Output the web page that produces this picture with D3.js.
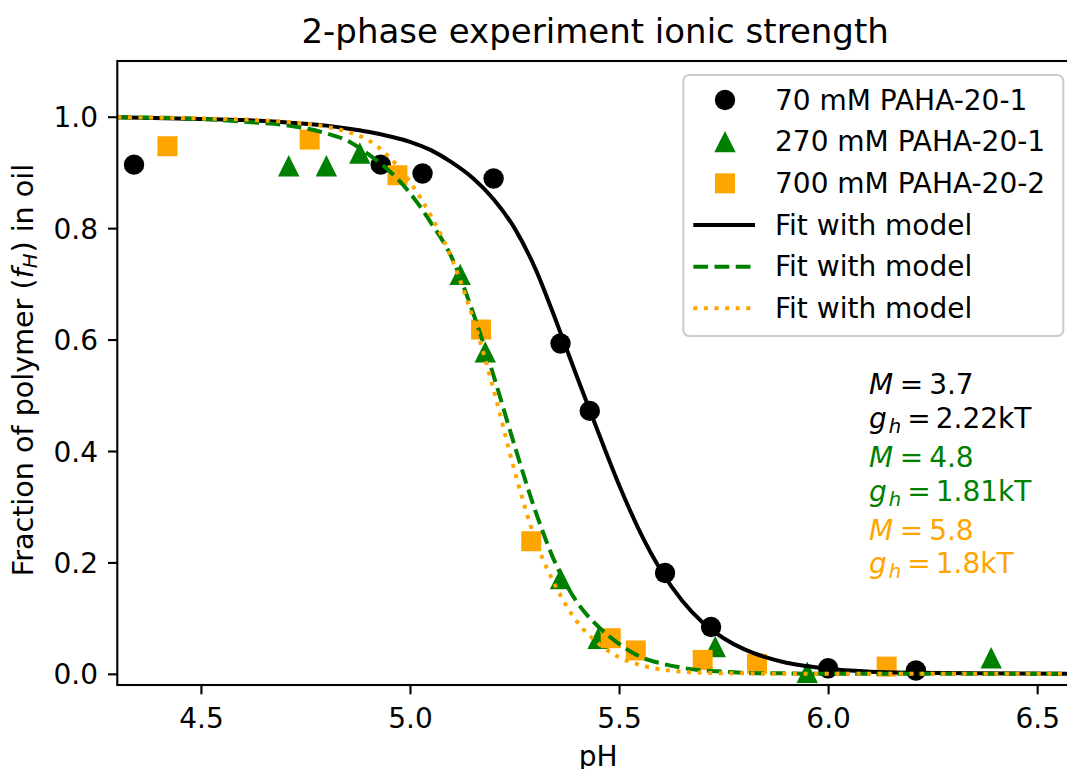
<!DOCTYPE html>
<html><head><meta charset="utf-8">
<script src="https://cdn.jsdelivr.net/npm/d3@7"></script>
<style>
body{margin:0;background:#fff}
svg{display:block}
text{font-family:"DejaVu Sans",sans-serif}
</style>
</head><body>
<svg id="chart" width="1067" height="769"></svg>
<script>
// ---------- data ----------
const titleText = "2-phase experiment ionic strength";
const xLabel = "pH";
const xTicks = [4.5, 5.0, 5.5, 6.0, 6.5];
const yTicks = [0.0, 0.2, 0.4, 0.6, 0.8, 1.0];
const seriesNames = ["70 mM PAHA-20-1", "270 mM PAHA-20-1", "700 mM PAHA-20-2"];
const fitName = "Fit with model";
const seriesColors = ["black", "green", "orange"];

const ph70 = [4.34, 4.93, 5.03, 5.20, 5.36, 5.43, 5.61, 5.72, 6.00, 6.21];
const f70  = [0.914, 0.914, 0.898, 0.889, 0.593, 0.472, 0.181, 0.084, 0.010, 0.006];
const ph270 = [4.71, 4.80, 4.88, 5.12, 5.18, 5.36, 5.45, 5.73, 5.95, 6.39];
const f270  = [0.912, 0.912, 0.935, 0.717, 0.578, 0.171, 0.064, 0.049, 0.003, 0.029];
const ph700 = [4.42, 4.76, 4.97, 5.17, 5.29, 5.48, 5.54, 5.70, 5.83, 6.14];
const f700  = [0.947, 0.959, 0.895, 0.618, 0.238, 0.064, 0.042, 0.025, 0.018, 0.013];

const fitPH = [4.3, 4.5, 4.6, 4.7, 4.8, 4.85, 4.9, 4.95, 5.0, 5.05, 5.1, 5.15, 5.2, 5.25, 5.3, 5.35,
               5.4, 5.45, 5.5, 5.55, 5.6, 5.65, 5.7, 5.75, 5.8, 5.85, 5.9, 5.95, 6.0, 6.1, 6.2, 6.35, 6.6];
const fit70  = [0.999, 0.996, 0.994, 0.990, 0.984, 0.979, 0.973, 0.965, 0.955, 0.940, 0.918, 0.890, 0.852, 0.800, 0.727, 0.632,
                0.532, 0.434, 0.339, 0.255, 0.186, 0.132, 0.092, 0.064, 0.044, 0.030, 0.020, 0.014, 0.009, 0.004, 0.002, 0.001, 0.000];
const fit270 = [0.999, 0.996, 0.991, 0.985, 0.970, 0.957, 0.933, 0.903, 0.863, 0.810, 0.747, 0.650, 0.535, 0.410, 0.292, 0.195,
                0.128, 0.085, 0.054, 0.031, 0.019, 0.011, 0.006, 0.004, 0.002, 0.001, 0.001, 0.000, 0.000, 0.000, 0.000, 0.000, 0.000];
const fit700 = [0.999, 0.997, 0.995, 0.991, 0.982, 0.973, 0.958, 0.928, 0.883, 0.822, 0.745, 0.640, 0.510, 0.365, 0.240, 0.155,
                0.093, 0.055, 0.030, 0.016, 0.008, 0.004, 0.002, 0.001, 0.001, 0.000, 0.000, 0.000, 0.000, 0.000, 0.000, 0.000, 0.000];

const paramM = ["3.7", "4.8", "5.8"];
const paramG = ["2.22", "1.81", "1.8"];

// ---------- layout ----------
const svg = d3.select("#chart");
const L = 117.3, R = 1079, T = 61, B = 685;
const x = d3.scaleLinear().domain([4.3, 6.6]).range([L, R]);
const y = d3.scaleLinear().domain([-0.02, 1.1]).range([B, T]);
const fs = 28;

svg.append("defs").append("clipPath").attr("id", "clip")
  .append("rect").attr("x", L).attr("y", T).attr("width", R - L).attr("height", B - T);

const plot = svg.append("g").attr("clip-path", "url(#clip)");

// markers
const markers = [
  {ph: ph70, f: f70, shape: "circle", color: seriesColors[0]},
  {ph: ph270, f: f270, shape: "triangle", color: seriesColors[1]},
  {ph: ph700, f: f700, shape: "square", color: seriesColors[2]}
];
function drawMarker(g, shape, cx, cy, color) {
  if (shape === "circle") {
    g.append("circle").attr("cx", cx).attr("cy", cy).attr("r", 10.2).attr("fill", color);
  } else if (shape === "triangle") {
    const h = 10.7;
    g.append("path").attr("d", `M${cx},${cy - h}L${cx - h},${cy + h}L${cx + h},${cy + h}Z`).attr("fill", color);
  } else {
    const h = 10;
    g.append("rect").attr("x", cx - h).attr("y", cy - h).attr("width", 2 * h).attr("height", 2 * h).attr("fill", color);
  }
}
markers.forEach(s => {
  s.ph.forEach((p, i) => drawMarker(plot, s.shape, x(p), y(s.f[i]), s.color));
});

// fit lines
const fits = [
  {vals: fit70, color: seriesColors[0], dash: null},
  {vals: fit270, color: seriesColors[1], dash: "14.8,6.4"},
  {vals: fit700, color: seriesColors[2], dash: "4,6.6"}
];
const line = d3.line().x(d => x(d[0])).y(d => y(d[1])).curve(d3.curveMonotoneX);
fits.forEach(ft => {
  const p = plot.append("path")
    .attr("d", line(fitPH.map((v, i) => [v, ft.vals[i]])))
    .attr("fill", "none").attr("stroke", ft.color).attr("stroke-width", 4);
  if (ft.dash) p.attr("stroke-dasharray", ft.dash);
});

// axes
const xAxis = svg.append("g").attr("transform", `translate(0,${B})`)
  .call(d3.axisBottom(x).tickValues(xTicks).tickFormat(d3.format(".1f")).tickSize(9.3).tickPadding(13.8));
const yAxis = svg.append("g").attr("transform", `translate(${L},0)`)
  .call(d3.axisLeft(y).tickValues(yTicks).tickFormat(d3.format(".1f")).tickSize(9.3).tickPadding(10));
[xAxis, yAxis].forEach(a => {
  a.select(".domain").remove();
  a.selectAll(".tick line").attr("stroke", "#000").attr("stroke-width", 2.1);
  a.selectAll(".tick text").attr("fill", "#000").style("font-size", fs + "px")
    .style("font-family", '"DejaVu Sans", sans-serif');
});
yAxis.selectAll(".tick text").attr("dy", "0.36em");

// spines
svg.append("rect").attr("x", L).attr("y", T).attr("width", R - L).attr("height", B - T)
  .attr("fill", "none").attr("stroke", "#000").attr("stroke-width", 2.1);

// title & labels
svg.append("text").attr("x", (L + R) / 2 - 3).attr("y", 43).attr("text-anchor", "middle")
  .style("font-size", "34px").text(titleText);
svg.append("text").attr("x", (L + R) / 2).attr("y", 766).attr("text-anchor", "middle")
  .style("font-size", fs + "px").text(xLabel);
const yl = svg.append("text").attr("transform", "translate(33,370) rotate(-90)")
  .attr("text-anchor", "middle").style("font-size", "28.6px");
yl.append("tspan").text("Fraction of polymer (");
yl.append("tspan").attr("font-style", "italic").text("f");
yl.append("tspan").attr("font-style", "italic").attr("dy", 4).style("font-size", (fs * 0.7) + "px").text("H");
yl.append("tspan").attr("dy", -4).attr("dx", 1).text(") in oil");

// parameter annotations
const mBase = [393.5, 466.7, 540];
const gBase = [428.3, 501, 573.3];
paramM.forEach((mv, i) => {
  const c = seriesColors[i];
  const t1 = svg.append("text").attr("x", 869).attr("y", mBase[i]).attr("fill", c).style("font-size", fs + "px");
  t1.append("tspan").attr("font-style", "italic").text("M");
  t1.append("tspan").attr("dx", 6.5).text("=");
  t1.append("tspan").attr("dx", 6).text(mv);
  const t2 = svg.append("text").attr("x", 869).attr("y", gBase[i]).attr("fill", c).style("font-size", fs + "px");
  t2.append("tspan").attr("font-style", "italic").text("g");
  t2.append("tspan").attr("font-style", "italic").attr("dx", 2).attr("dy", 5).style("font-size", (fs * 0.7) + "px").text("h");
  t2.append("tspan").attr("dx", 6).attr("dy", -5).text("=");
  t2.append("tspan").attr("dx", 5).text(paramG[i] + "kT");
});

// legend
const lg = svg.append("g");
lg.append("rect").attr("x", 683.3).attr("y", 75).attr("width", 380).attr("height", 261).attr("rx", 6)
  .attr("fill", "white").attr("fill-opacity", 0.8).attr("stroke", "#cccccc").attr("stroke-width", 2.1);
const rowY = d3.range(6).map(i => 100 + i * 41.67);
const legendLabels = seriesNames.concat([fitName, fitName, fitName]);
markers.forEach((s, i) => drawMarker(lg, s.shape, 725, rowY[i], s.color));
fits.forEach((ft, i) => {
  const p = lg.append("line").attr("x1", 693.3).attr("x2", 755).attr("y1", rowY[i + 3]).attr("y2", rowY[i + 3])
    .attr("stroke", ft.color).attr("stroke-width", 4);
  if (ft.dash) p.attr("stroke-dasharray", ft.dash);
});
legendLabels.forEach((t, i) => {
  lg.append("text").attr("x", 775).attr("y", rowY[i] + 9.5).style("font-size", fs + "px").text(t);
});
</script>
</body></html>
